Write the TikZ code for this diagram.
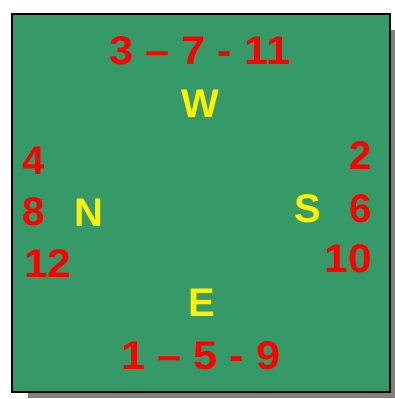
\documentclass[tikz,border=0pt]{standalone}
\usepackage{fontspec}
\setmainfont{Liberation Sans}
\definecolor{boardgreen}{RGB}{54,153,104}
\definecolor{shadowgray}{RGB}{128,128,128}
\begin{document}
\begin{tikzpicture}[x=1pt, y=-1pt,
    every node/.style={inner sep=0pt, font=\fontsize{40}{40}\selectfont\bfseries},
    num/.style={text=red},
    dir/.style={text=yellow}]
    \useasboundingbox (0,0) rectangle (395,399);
    % board with its shadow
    \fill[shadowgray] (28,30) rectangle (395,398);
    \draw[fill=boardgreen,line width=2pt] (12,14) rectangle (390,392);
    % sequences top and bottom
    \node[num,xscale=1.08] (top) at (200,51) {3 -- 7 - 11};
    \node[num,xscale=1.08] (bottom) at (201,356) {1 -- 5 - 9};
    % directions
    \node[dir] (w) at (200,104) {W};
    \node[dir] (e) at (201.5,303) {E};
    \node[dir] (n) at (89,213) {N};
    \node[dir] (s) at (308,209) {S};
    % left column
    \node[num,anchor=west] (four) at (22,160.5) {4};
    \node[num,anchor=west] (eight) at (22,212) {8};
    \node[num,anchor=west,xscale=1.06] (twelve) at (24,264) {12};
    % right column
    \node[num,anchor=east] (two) at (372,156) {2};
    \node[num,anchor=east] (six) at (372,208.5) {6};
    \node[num,anchor=east,xscale=1.06] (ten) at (372,259) {10};
\end{tikzpicture}
\end{document}
